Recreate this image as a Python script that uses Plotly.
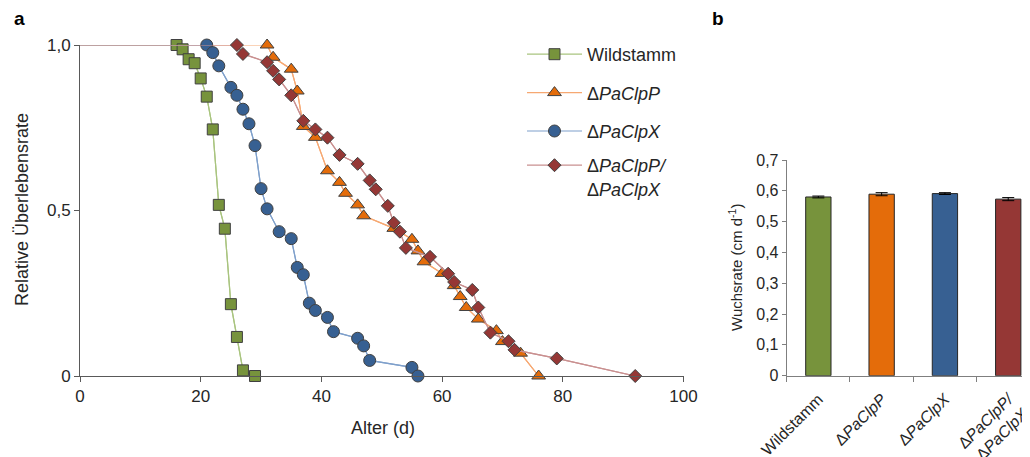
import plotly.graph_objects as go

# ---------------- data: panel a (survival) ----------------
wt_days = [0, 16, 17, 18, 19, 20, 21, 22, 23, 24, 25, 26, 27, 29]
wt_surv = [1.0, 1.0, 0.987, 0.957, 0.945, 0.899, 0.844, 0.745, 0.517, 0.445, 0.217, 0.118, 0.017, 0.0]

clpp_days = [0, 31, 32, 35, 36, 37, 39, 41, 43, 44, 46, 47, 52, 55, 56, 57, 60, 62, 63, 64, 66, 69, 70, 73, 76]
clpp_surv = [1.0, 1.0, 0.963, 0.927, 0.861, 0.754, 0.721, 0.620, 0.585, 0.552, 0.517, 0.484, 0.446, 0.413,
             0.378, 0.345, 0.310, 0.273, 0.240, 0.207, 0.172, 0.137, 0.104, 0.069, 0.0]

clpx_days = [0, 21, 22, 23, 25, 26, 27, 28, 29, 30, 31, 33, 35, 36, 37, 38, 39, 41, 42, 46, 47, 48, 55, 56]
clpx_surv = [1.0, 1.0, 0.977, 0.937, 0.872, 0.848, 0.806, 0.762, 0.696, 0.566, 0.505, 0.436, 0.415, 0.328,
             0.306, 0.220, 0.198, 0.177, 0.134, 0.114, 0.091, 0.047, 0.026, 0.0]

dbl_days = [0, 26, 27, 31, 32, 33, 35, 37, 39, 41, 43, 46, 48, 49, 51, 52, 53, 54, 58, 61, 62, 65, 66, 68, 71, 72, 79, 92]
dbl_surv = [1.0, 1.0, 0.973, 0.948, 0.922, 0.896, 0.848, 0.771, 0.745, 0.720, 0.668, 0.641, 0.591, 0.564,
            0.514, 0.463, 0.436, 0.387, 0.360, 0.309, 0.284, 0.260, 0.207, 0.131, 0.105, 0.079, 0.053, 0.0]

series_names = ["Wildstamm", "Δ<i>PaClpP</i>", "Δ<i>PaClpX</i>", "Δ<i>PaClpP/</i><br>Δ<i>PaClpX</i>"]

# ---------------- data: panel b (growth rate) ----------------
bar_labels = ["Wildstamm", "Δ<i>PaClpP</i>", "Δ<i>PaClpX</i>", "Δ<i>PaClpP/</i><br>Δ<i>PaClpX</i>"]
bar_values = [0.580, 0.589, 0.591, 0.573]
bar_errors = [0.003, 0.005, 0.003, 0.005]

left_yticks = [0, 0.5, 1.0]
left_yticktext = ["0", "0,5", "1,0"]
left_xticks = [0, 20, 40, 60, 80, 100]
right_yticks = [0, 0.1, 0.2, 0.3, 0.4, 0.5, 0.6, 0.7]
right_yticktext = ["0", "0,1", "0,2", "0,3", "0,4", "0,5", "0,6", "0,7"]

# ---------------- styles ----------------
FONT = "Liberation Sans, Arial, sans-serif"
TXT = "#262626"
marker_cols = ["#77933C", "#E46C0A", "#376092", "#953735"]
line_cols = ["#A9C47F", "#F6A872", "#7FA0CB", "#C99090"]
symbols = ["square", "triangle-up", "circle", "diamond"]
msizes = [11, 12, 12, 10]

# the page has an 8px body margin: the figure is placed at (8, 8) in the window
OFF = 8
W, H = 1030 - OFF, 457 - OFF


def px(x):
    return (x - OFF) / W


def py(y):
    return 1 - (y - OFF) / H


fig = go.Figure()

datasets = [(wt_days, wt_surv), (clpp_days, clpp_surv), (clpx_days, clpx_surv), (dbl_days, dbl_surv)]
for i, (d, s) in enumerate(datasets):
    fig.add_trace(go.Scatter(
        x=d, y=s, mode="lines", line=dict(color=line_cols[i], width=1.2),
        showlegend=False, hoverinfo="skip", xaxis="x", yaxis="y", cliponaxis=False))
    fig.add_trace(go.Scatter(
        x=d[1:], y=s[1:], mode="lines+markers", name=series_names[i],
        legendgroup=f"g{i}", legend="legend2" if i == 3 else "legend",
        line=dict(color=line_cols[i], width=1.2),
        marker=dict(symbol=symbols[i], size=msizes[i], color=marker_cols[i],
                    line=dict(color="#404040", width=1)),
        xaxis="x", yaxis="y", cliponaxis=False))

fig.add_trace(go.Bar(
    x=bar_labels, y=bar_values, width=0.4,
    marker=dict(color=marker_cols, line=dict(color="#262626", width=1)),
    error_y=dict(type="data", array=bar_errors, color="#000000", thickness=1, width=6),
    showlegend=False, xaxis="x2", yaxis="y2"))

legend_common = dict(xanchor="left", yanchor="top", font=dict(size=18, color=TXT),
                     tracegroupgap=12, itemwidth=55, valign="top",
                     bgcolor="rgba(0,0,0,0)", traceorder="grouped")

fig.update_layout(
    width=W, height=H,
    margin=dict(l=0, r=0, t=0, b=0, autoexpand=False),
    paper_bgcolor="white", plot_bgcolor="white",
    font=dict(family=FONT, size=18, color=TXT),
    xaxis=dict(domain=[px(80), px(683.5)], range=[0, 100], tickvals=left_xticks,
               showgrid=False, zeroline=False, showline=True, linecolor="#595959", linewidth=1,
               ticks="outside", ticklen=5, tickcolor="#595959", automargin=False,
               tickfont=dict(size=17, color=TXT), anchor="y"),
    yaxis=dict(domain=[py(376), py(45)], range=[0, 1], tickvals=left_yticks,
               ticktext=left_yticktext, showgrid=False, zeroline=False, showline=True,
               linecolor="#595959", linewidth=1, ticks="outside", ticklen=5, tickcolor="#595959",
               automargin=False, tickfont=dict(size=17, color=TXT), anchor="x"),
    xaxis2=dict(domain=[px(786.7), 1.0], range=[-0.5, 3.344], type="category",
                tickson="boundaries", showgrid=False, zeroline=False, showline=True,
                linecolor="#7f7f7f", linewidth=1, ticks="outside", ticklen=5, tickcolor="#7f7f7f",
                tickangle=-45, automargin=False, ticklabelstandoff=7,
                tickfont=dict(size=16, color=TXT), anchor="y2"),
    yaxis2=dict(domain=[py(375.7), py(160)], range=[0, 0.7], tickvals=right_yticks,
                ticktext=right_yticktext, showgrid=False, zeroline=False, showline=True,
                linecolor="#7f7f7f", linewidth=1, ticks="outside", ticklen=4, tickcolor="#7f7f7f",
                automargin=False, tickfont=dict(size=16, color=TXT), anchor="x2"),
    legend=dict(x=px(522), y=py(36), **legend_common),
    legend2=dict(x=px(522), y=py(147), **legend_common),
    annotations=[
        dict(text="<b>a</b>", x=px(12), y=py(6), xref="paper", yref="paper",
             xanchor="left", yanchor="top", showarrow=False, font=dict(size=19, color="#000")),
        dict(text="<b>b</b>", x=px(710), y=py(6), xref="paper", yref="paper",
             xanchor="left", yanchor="top", showarrow=False, font=dict(size=19, color="#000")),
        dict(text="Alter (d)", x=px(383), y=py(428), xref="paper", yref="paper",
             xanchor="center", yanchor="middle", showarrow=False, font=dict(size=18, color=TXT)),
        dict(text="Relative Überlebensrate", x=px(22), y=py(210), xref="paper", yref="paper",
             xanchor="center", yanchor="middle", textangle=-90, showarrow=False,
             font=dict(size=18, color=TXT)),
        dict(text="Wuchsrate (cm d<sup>-1</sup>)", x=px(735), y=py(268), xref="paper",
             yref="paper", xanchor="center", yanchor="middle", textangle=-90, showarrow=False,
             font=dict(size=15, color=TXT)),
    ],
)

fig.write_html("out.html")
